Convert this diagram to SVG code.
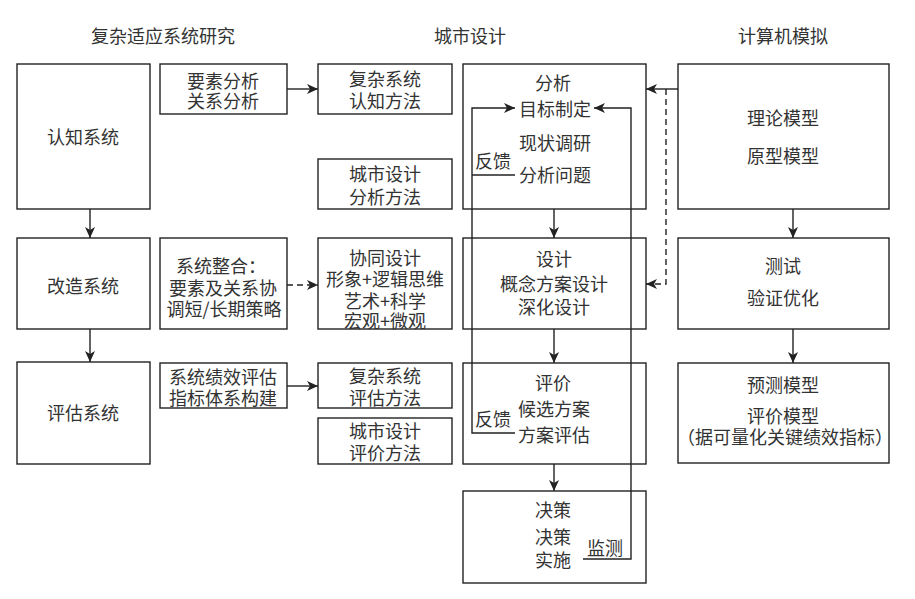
<svg xmlns="http://www.w3.org/2000/svg" width="915" height="599" viewBox="0 0 915 599">
<defs>
<style>
rect{fill:#fff;stroke:#222;stroke-width:1.4}
text{font-family:"Noto Sans CJK SC","Noto Sans",sans-serif;font-size:18px;fill:#333;text-anchor:middle;dominant-baseline:central}
.c{fill:none;stroke:#222;stroke-width:1.4}
.d{stroke-dasharray:6,4}
.t{font-size:18px}
</style>
<marker id="ah" markerUnits="userSpaceOnUse" markerWidth="12" markerHeight="10" refX="11" refY="5" orient="auto">
<path d="M0,0 L11,5 L0,10 L3,5 z" fill="#222"/>
</marker>
</defs>
<g id="titles">
<text x="163" y="35">复杂适应系统研究</text>
<text x="470" y="35">城市设计</text>
<text x="783" y="35">计算机模拟</text>
</g>
<g id="n-renzhi"><rect x="17" y="64" width="133" height="145"/><text x="83" y="136">认知系统</text></g>
<g id="n-gaizao"><rect x="17" y="238" width="133" height="91"/><text x="83" y="285">改造系统</text></g>
<g id="n-pinggu"><rect x="17" y="362" width="133" height="102"/><text x="83" y="412">评估系统</text></g>
<g id="n-yaosu"><rect x="160" y="64" width="127" height="50"/><text x="223" y="80">要素分析</text><text x="223" y="100">关系分析</text></g>
<g id="n-zhenghe"><rect x="160" y="238" width="127" height="91"/><text x="221" y="265">系统整合：</text><text x="223" y="287">要素及关系协</text><text x="224" y="308">调短/长期策略</text></g>
<g id="n-jixiao"><rect x="160" y="363" width="127" height="45"/><text x="223" y="376">系统绩效评估</text><text x="223" y="397">指标体系构建</text></g>
<g id="n-renzhifangfa"><rect x="318" y="64" width="134" height="50"/><text x="385" y="78">复杂系统</text><text x="385" y="100">认知方法</text></g>
<g id="n-fenxifangfa"><rect x="318" y="159" width="134" height="50"/><text x="385" y="173">城市设计</text><text x="385" y="196">分析方法</text></g>
<g id="n-xietong"><rect x="318" y="238" width="134" height="91"/><text x="385" y="257">协同设计</text><text x="385" y="278">形象+逻辑思维</text><text x="385" y="300">艺术+科学</text><text x="385" y="320">宏观+微观</text></g>
<g id="n-pinggufangfa"><rect x="318" y="363" width="134" height="45"/><text x="385" y="375">复杂系统</text><text x="385" y="397">评估方法</text></g>
<g id="n-pingjiafangfa"><rect x="318" y="418" width="134" height="46"/><text x="385" y="430">城市设计</text><text x="385" y="452">评价方法</text></g>
<g id="n-fenxi"><rect x="463" y="64" width="183" height="145"/><text x="553" y="82">分析</text><text x="555" y="108">目标制定</text><text x="555" y="142">现状调研</text><text x="493" y="160">反馈</text><text x="555" y="174">分析问题</text></g>
<g id="n-sheji"><rect x="463" y="238" width="183" height="91"/><text x="554" y="258">设计</text><text x="554" y="283">概念方案设计</text><text x="554" y="306">深化设计</text></g>
<g id="n-pingjia"><rect x="463" y="363" width="183" height="101"/><text x="553" y="382">评价</text><text x="554" y="408">候选方案</text><text x="493" y="418">反馈</text><text x="554" y="434">方案评估</text></g>
<g id="n-juece"><rect x="463" y="491" width="183" height="92"/><text x="553" y="509">决策</text><text x="553" y="536">决策</text><text x="553" y="559">实施</text><text x="605" y="547">监测</text></g>
<g id="n-lilun"><rect x="678" y="64" width="211" height="145"/><text x="783" y="117">理论模型</text><text x="783" y="155">原型模型</text></g>
<g id="n-ceshi"><rect x="678" y="238" width="211" height="91"/><text x="783" y="265">测试</text><text x="783" y="297">验证优化</text></g>
<g id="n-yuce"><rect x="678" y="363" width="211" height="100"/><text x="783" y="384">预测模型</text><text x="783" y="415">评价模型</text><text x="785" y="436">（据可量化关键绩效指标）</text></g>
<g id="connectors">
<line class="c" x1="90" y1="209" x2="90" y2="238" marker-end="url(#ah)"/>
<line class="c" x1="90" y1="329" x2="90" y2="362" marker-end="url(#ah)"/>
<line class="c" x1="287" y1="89" x2="318" y2="89" marker-end="url(#ah)"/>
<line class="c d" x1="287" y1="285" x2="318" y2="285" marker-end="url(#ah)"/>
<line class="c" x1="287" y1="386" x2="318" y2="386" marker-end="url(#ah)"/>
<line class="c" x1="554" y1="209" x2="554" y2="238" marker-end="url(#ah)"/>
<line class="c" x1="554" y1="329" x2="554" y2="363" marker-end="url(#ah)"/>
<line class="c" x1="554" y1="464" x2="554" y2="491" marker-end="url(#ah)"/>
<line class="c" x1="793" y1="209" x2="793" y2="238" marker-end="url(#ah)"/>
<line class="c" x1="793" y1="329" x2="793" y2="363" marker-end="url(#ah)"/>
<line class="c" x1="678" y1="89" x2="646" y2="89" marker-end="url(#ah)"/>
<polyline class="c d" points="666,89 666,284 646,284" marker-end="url(#ah)"/>
<polyline class="c" points="515,433 472,433 472,108 515,108" marker-end="url(#ah)"/>
<line class="c" x1="472" y1="175" x2="515" y2="175"/>
<polyline class="c" points="583,559 631,559 631,108 594,108" marker-end="url(#ah)"/>
</g>
</svg>
